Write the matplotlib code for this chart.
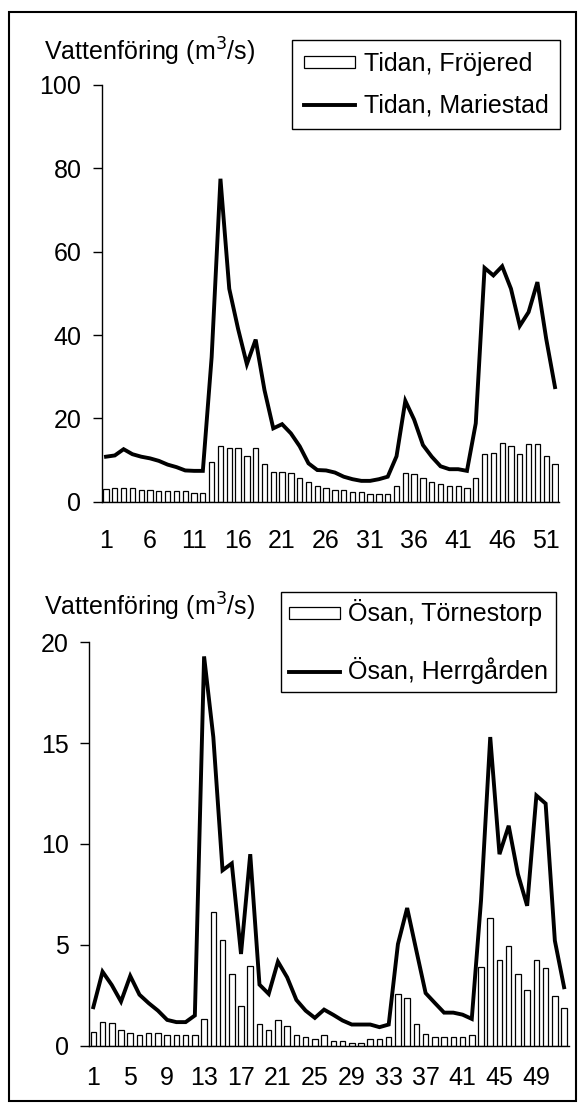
import numpy as np
import matplotlib.pyplot as plt
from matplotlib.patches import Rectangle

plt.rcParams['font.family'] = ['Liberation Sans', 'DejaVu Sans']

# weekly discharge (m3/s), weeks 1..52
weeks = np.arange(1, 53)

tidan_frojered = [2.95, 3.35, 3.35, 3.35, 2.9, 2.9, 2.5, 2.5, 2.5, 2.5, 2.0, 2.0,
                  9.6, 13.3, 12.9, 12.9, 10.9, 12.9, 9.0, 7.2, 7.2, 6.8, 5.7, 4.8,
                  3.8, 3.35, 2.9, 2.9, 2.4, 2.4, 1.9, 1.9, 1.9, 3.8, 7.0, 6.7,
                  5.7, 4.8, 4.3, 3.8, 3.8, 3.35, 5.7, 11.4, 11.8, 14.2, 13.3, 11.4,
                  13.8, 13.8, 10.9, 9.0]
tidan_mariestad = [10.8, 11.1, 12.6, 11.4, 10.8, 10.4, 9.8, 8.9, 8.3, 7.5, 7.4, 7.4,
                   34.7, 77.5, 51.1, 41.5, 33.0, 38.9, 26.8, 17.6, 18.6, 16.4, 13.3, 9.2,
                   7.6, 7.5, 7.0, 6.0, 5.4, 5.0, 5.0, 5.4, 6.0, 10.9, 24.2, 19.7,
                   13.6, 10.8, 8.5, 7.8, 7.8, 7.4, 18.8, 56.1, 54.3, 56.5, 51.1, 42.2,
                   45.5, 52.7, 39.1, 27.5]

osan_tornestorp = [0.69, 1.19, 1.1, 0.79, 0.61, 0.5, 0.61, 0.61, 0.5, 0.5, 0.5, 0.5,
                   1.29, 6.63, 5.25, 3.56, 1.98, 3.96, 1.09, 0.79, 1.27, 0.99, 0.5, 0.4,
                   0.3, 0.5, 0.2, 0.2, 0.1, 0.1, 0.3, 0.3, 0.4, 2.57, 2.38, 1.09,
                   0.59, 0.4, 0.4, 0.4, 0.4, 0.5, 3.88, 6.32, 4.26, 4.93, 3.56, 2.76,
                   4.26, 3.86, 2.48, 1.86]
osan_herrgarden = [1.9, 3.66, 3.0, 2.18, 3.45, 2.52, 2.1, 1.73, 1.27, 1.16, 1.16, 1.49,
                   19.3, 15.3, 8.69, 9.03, 4.54, 9.49, 3.02, 2.56, 4.16, 3.38, 2.26, 1.73,
                   1.37, 1.78, 1.52, 1.24, 1.04, 1.04, 1.04, 0.91, 1.04, 5.03, 6.82, 4.7,
                   2.6, 2.11, 1.63, 1.63, 1.53, 1.32, 7.18, 15.3, 9.49, 10.9, 8.5, 6.93,
                   12.4, 12.0, 5.2, 2.89]

W, H = 586, 1112
fig = plt.figure(figsize=(W / 100, H / 100), dpi=100)
FS = 18


def px(x0, y0, x1, y1):
    # pixel box (top-left origin) -> figure rect
    return [x0 / W, 1 - y1 / H, (x1 - x0) / W, (y1 - y0) / H]


def panel(rect, bars, line, ymax, yticks, xticks, lab_bar, lab_line, leg_box,
          ylab_y, xpad, lspace, bpad):
    ax = fig.add_axes(rect)
    b = ax.bar(weeks, bars, width=0.6, color='white', edgecolor='black', linewidth=0.9,
               zorder=2)
    l, = ax.plot(weeks, line, color='black', linewidth=2.8, zorder=3,
                 solid_joinstyle='miter')
    ax.set_xlim(0.5, 52.5)
    ax.set_ylim(0, ymax)
    ax.set_yticks(yticks)
    ax.set_xticks(xticks)
    for s in ['top', 'right']:
        ax.spines[s].set_visible(False)
    for s in ['left', 'bottom']:
        ax.spines[s].set_linewidth(1.0)
    ax.tick_params(axis='y', direction='out', length=6.5, width=1.0, labelsize=FS, pad=8)
    ax.tick_params(axis='x', length=0, labelsize=FS, pad=xpad)
    leg = ax.legend([b, l], [lab_bar, lab_line], loc='upper right',
                    bbox_to_anchor=(leg_box[0] / W, 1 - leg_box[1] / H),
                    bbox_transform=fig.transFigure, borderaxespad=0, fontsize=FS,
                    frameon=True, fancybox=False, framealpha=1, edgecolor='black',
                    handlelength=2.05, handleheight=0.36, handletextpad=0.35,
                    labelspacing=lspace, borderpad=bpad)
    leg.get_frame().set_linewidth(1.0)
    fig.text(44 / W, 1 - ylab_y / H, 'Vattenföring (m$^3$/s)', fontsize=FS,
             ha='left', va='center')
    return ax


panel(px(101.6, 85, 559.4, 501.7), tidan_frojered, tidan_mariestad, 100,
      [0, 20, 40, 60, 80, 100], list(range(1, 52, 5)),
      'Tidan, Fröjered', 'Tidan, Mariestad', (560, 40), 52, 20, 0.72, 0.46)

panel(px(88.7, 642.3, 568.7, 1045.5), osan_tornestorp, osan_herrgarden, 20,
      [0, 5, 10, 15, 20], list(range(1, 50, 4)),
      'Ösan, Törnestorp', 'Ösan, Herrgården', (556, 592), 607, 15, 1.24, 0.3)

# outer frame
fig.patches.append(Rectangle((9 / W, 1 - 1101 / H), 567 / W, 1089 / H,
                             transform=fig.transFigure, fill=False,
                             edgecolor='black', linewidth=1.5))

fig.savefig('out.png', dpi=100)
